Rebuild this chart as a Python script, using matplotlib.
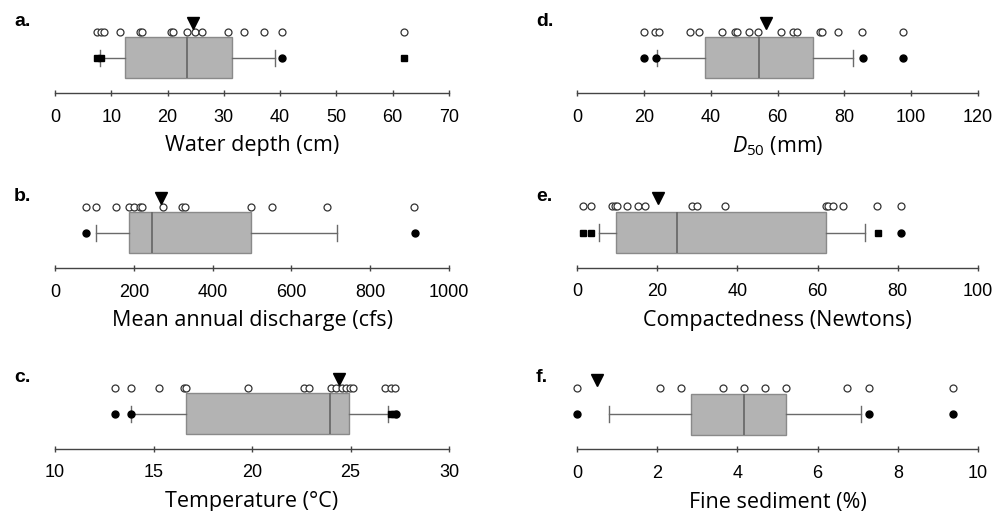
import matplotlib
matplotlib.use("Agg")
import matplotlib.pyplot as plt

plt.rcParams["mathtext.fontset"] = "custom"
plt.rcParams["mathtext.it"] = "Open Sans:italic"
plt.rcParams["mathtext.rm"] = "Open Sans"

# valori
depth_pts = [7.4, 8.2, 8.7, 11.5, 15.1, 15.5, 20.6, 21.0, 23.5, 24.9, 26.2, 30.7, 33.6, 37.1, 40.4, 62.0]
depth_box = [8.0, 12.5, 23.5, 31.4, 39.1]
depth_mean = 24.6
depth_out = [7.4, 8.2, 40.4, 62.0]
depth_mk = ['s', 's', 'o', 's']

disch_pts = [79, 103, 155, 187, 201, 215, 220, 273, 323, 329, 498, 551, 690, 911]
disch_box = [104, 189, 246, 498, 715]
disch_mean = 268
disch_out = [79, 914]
disch_mk = ['o', 'o']

temp_pts = [13.05, 13.86, 15.26, 16.53, 16.67, 19.78, 22.62, 22.88, 24.0, 24.26, 24.55,
            24.78, 24.95, 25.12, 26.76, 27.05, 27.28]
temp_box = [13.88, 16.64, 23.97, 24.91, 26.9]
temp_mean = 24.43
temp_out = [13.05, 13.88, 27.05, 27.2, 27.3]
temp_mk = ['o', 'o', 's', 's', 'o']

d50_pts = [20.0, 23.2, 24.5, 33.9, 36.4, 43.4, 47.2, 47.9, 51.4, 54.3, 60.9, 64.6, 65.9,
           72.6, 73.2, 78.1, 85.3, 97.6]
d50_box = [24.0, 38.4, 54.5, 70.6, 82.6]
d50_mean = 56.7
d50_out = [20.0, 23.5, 85.6, 97.6]
d50_mk = ['o', 'o', 'o', 'o']

comp_pts = [1.5, 3.4, 8.7, 9.6, 10.0, 12.4, 15.1, 17.0, 28.6, 29.9, 36.9, 62.1, 62.7,
            63.8, 66.4, 74.8, 80.9]
comp_box = [5.6, 9.7, 25.0, 62.1, 71.7]
comp_mean = 20.2
comp_out = [1.5, 3.4, 75.0, 80.9]
comp_mk = ['s', 's', 's', 'o']

fine_pts = [0.0, 2.07, 2.6, 3.63, 4.17, 4.68, 5.21, 6.73, 7.29, 9.37]
fine_box = [0.81, 2.85, 4.17, 5.21, 7.09]
fine_mean = 0.51
fine_out = [0.0, 7.29, 9.37]
fine_mk = ['o', 'o', 'o']

W, H = 993, 511
fig = plt.figure(figsize=(W / 100, H / 100), dpi=100)

pannelli = [
    ("a.", "Water depth (cm)", (0, 70), range(0, 71, 10), depth_pts, depth_box, depth_mean, depth_out, depth_mk, 55, 449, 92.7),
    ("b.", "Mean annual discharge (cfs)", (0, 1000), range(0, 1001, 200), disch_pts, disch_box, disch_mean, disch_out, disch_mk, 55, 449, 267.7),
    ("c.", "Temperature (°C)", (10, 30), range(10, 31, 5), temp_pts, temp_box, temp_mean, temp_out, temp_mk, 55, 449, 448.5),
    ("d.", "$\\mathit{D_{50}}$ (mm)", (0, 120), range(0, 121, 20), d50_pts, d50_box, d50_mean, d50_out, d50_mk, 577, 978, 92.7),
    ("e.", "Compactedness (Newtons)", (0, 100), range(0, 101, 20), comp_pts, comp_box, comp_mean, comp_out, comp_mk, 577, 978, 267.5),
    ("f.", "Fine sediment (%)", (0, 10), range(0, 11, 2), fine_pts, fine_box, fine_mean, fine_out, fine_mk, 577, 978, 449),
]

AX_H = 80  # altezza in pixel
for lettera, etichetta, lim, ticks, pts, box, media, out, mk, x0, x1, spina in pannelli:
    ax = fig.add_axes([x0 / W, 1 - spina / H, (x1 - x0) / W, AX_H / H])

    stats = [dict(whislo=box[0], q1=box[1], med=box[2], q3=box[3], whishi=box[4], fliers=[])]
    ax.bxp(stats, positions=[35], widths=41, capwidths=16, orientation="horizontal",
           patch_artist=True, showfliers=False,
           boxprops=dict(facecolor="#b3b3b3", edgecolor="#8a8a8a", linewidth=1),
           medianprops=dict(color="#6a6a6a", linewidth=1.3),
           whiskerprops=dict(color="#6a6a6a", linewidth=1),
           capprops=dict(color="#6a6a6a", linewidth=1))

    ax.plot(pts, [61] * len(pts), linestyle="none", marker="o", markersize=5,
            markerfacecolor="white", markeredgecolor="#333333", markeredgewidth=0.9, clip_on=False)
    for v, m in zip(out, mk):
        ax.plot([v], [35], linestyle="none", marker=m, markersize=5 if m == "o" else 4.8,
                color="black", clip_on=False)
    ax.plot([media], [69.5], linestyle="none", marker="v", markersize=8, color="black", clip_on=False)

    ax.set_xlim(*lim)
    ax.set_ylim(0, AX_H)
    for s in ["top", "right", "left"]:
        ax.spines[s].set_visible(False)
    ax.spines["bottom"].set_color("#444444")
    ax.spines["bottom"].set_linewidth(1.0)
    ax.set_yticks([])
    ax.set_xticks(list(ticks))
    ax.set_xticklabels([str(t) for t in ticks])
    ax.tick_params(axis="x", direction="inout", length=5, width=1, color="#444444",
                   labelsize=13, pad=9)
    for t in ax.get_xticklabels():
        t.set_fontfamily("Liberation Sans")

    ax.set_xlabel(etichetta, fontsize=15.5, fontfamily="Open Sans")
    ax.xaxis.set_label_coords(0.5, -53 / AX_H)
    ax.xaxis.label.set_va("center")

    fig.text((x0 - 41) / W, 1 - (spina - 71) / H, lettera, fontsize=14, fontweight="bold",
             fontfamily="Liberation Sans", va="center", ha="left")

fig.savefig("out.png", dpi=100)
